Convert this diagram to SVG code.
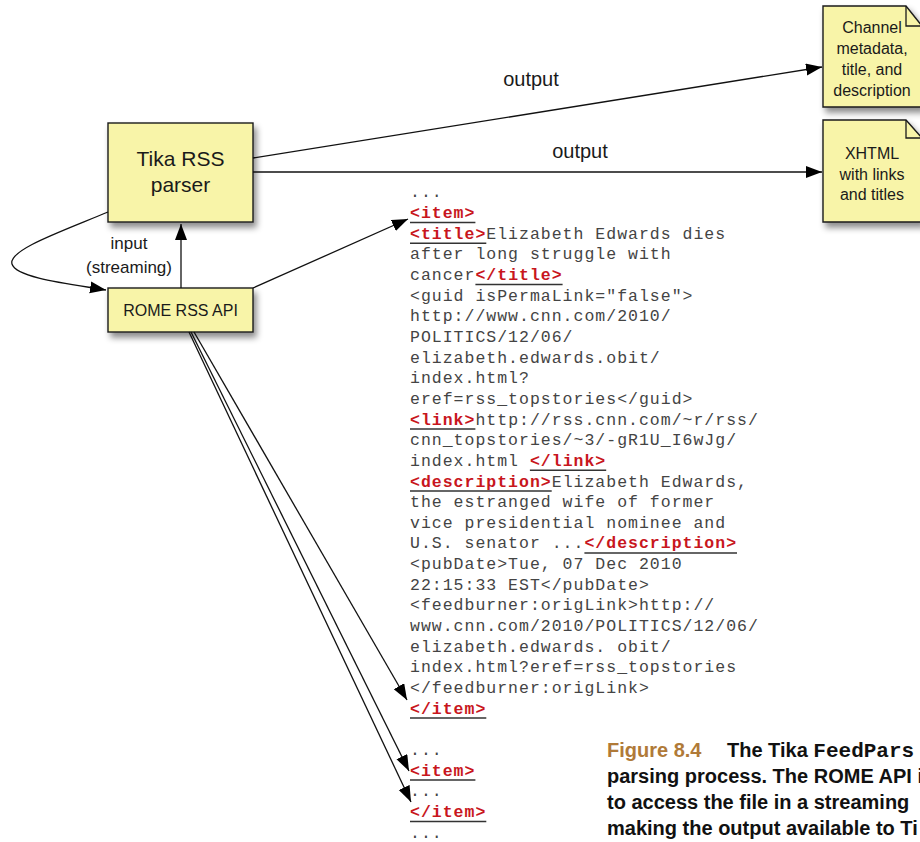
<svg xmlns="http://www.w3.org/2000/svg" width="920" height="842" viewBox="0 0 920 842">
<style>
.box{fill:#f8f4a8;stroke:#1a1a1a;stroke-width:1.4;filter:url(#sh)}
.lbl{font-family:"Liberation Sans",Arial,sans-serif;fill:#1a1a1a;text-anchor:middle}
.conn{fill:none;stroke:#111;stroke-width:1.3}
.code{font-family:"Liberation Mono","Courier New",monospace;font-size:16.5px;letter-spacing:1px;fill:#444}
.tag{fill:#c8161d;font-weight:bold}
.ul{stroke:#333;stroke-width:1.5}
.cap{font-family:"Liberation Sans",Arial,sans-serif;font-size:20px;font-weight:bold;fill:#111}
</style>
<defs>
<filter id="sh" x="-20%" y="-20%" width="150%" height="160%">
<feDropShadow dx="3" dy="5" stdDeviation="3" flood-color="#000" flood-opacity="0.45"/>
</filter>
<marker id="ah" markerUnits="userSpaceOnUse" markerWidth="18" markerHeight="14" refX="16" refY="6" orient="auto">
<path d="M0,0 L16,6 L0,12 z" fill="#000"/>
</marker>
</defs>

<g id="tika">
<rect class="box" x="108" y="123" width="145" height="99"/>
<text class="lbl" font-size="21" x="180.5" y="166">Tika RSS</text>
<text class="lbl" font-size="21" x="180.5" y="192">parser</text>
</g>

<g id="rome">
<rect class="box" x="108" y="288" width="145" height="44"/>
<text class="lbl" font-size="16" x="180.5" y="316">ROME RSS API</text>
</g>

<g id="channel">
<path class="box" d="M823,6 L906,6 L922,26 L922,107 L823,107 z"/>
<path d="M906,6 L906,26 L922,26" fill="none" stroke="#1a1a1a" stroke-width="1.3"/>
<text class="lbl" font-size="16" x="872" y="33">Channel</text>
<text class="lbl" font-size="16" x="872" y="54">metadata,</text>
<text class="lbl" font-size="16" x="872" y="75">title, and</text>
<text class="lbl" font-size="16" x="872" y="96">description</text>
</g>

<g id="xhtml">
<path class="box" d="M823,120 L906,120 L922,138 L922,222 L823,222 z"/>
<path d="M906,120 L906,138 L922,138" fill="none" stroke="#1a1a1a" stroke-width="1.3"/>
<text class="lbl" font-size="16" x="872" y="159">XHTML</text>
<text class="lbl" font-size="16" x="872" y="180">with links</text>
<text class="lbl" font-size="16" x="872" y="200">and titles</text>
</g>

<g id="connectors">
<line class="conn" x1="253" y1="158" x2="822" y2="67" marker-end="url(#ah)"/>
<text class="lbl" font-size="20" x="531" y="86">output</text>
<line class="conn" x1="253" y1="172" x2="822" y2="172" marker-end="url(#ah)"/>
<text class="lbl" font-size="20" x="580" y="158">output</text>
<line class="conn" x1="181" y1="288" x2="181" y2="224" marker-end="url(#ah)"/>
<path class="conn" d="M108,212 C60,232 8,250 12,264 C16,278 70,284 106,290" marker-end="url(#ah)"/>
<text class="lbl" font-size="17" x="129" y="249">input</text>
<text class="lbl" font-size="17" x="129" y="273">(streaming)</text>
<line class="conn" x1="253" y1="288" x2="408" y2="219" marker-end="url(#ah)"/>
<line class="conn" x1="194" y1="332" x2="407" y2="700" marker-end="url(#ah)"/>
<line class="conn" x1="191" y1="332" x2="409" y2="771" marker-end="url(#ah)"/>
<line class="conn" x1="189" y1="332" x2="411" y2="802" marker-end="url(#ah)"/>
</g>

<g id="code">
<text class="code" x="410" y="197.4">...</text>
<text class="code" x="410" y="218"><tspan class="tag">&lt;item&gt;</tspan></text>
<text class="code" x="410" y="238.7"><tspan class="tag">&lt;title&gt;</tspan>Elizabeth Edwards dies</text>
<text class="code" x="410" y="259.3">after long struggle with</text>
<text class="code" x="410" y="280">cancer<tspan class="tag">&lt;/title&gt;</tspan></text>
<text class="code" x="410" y="300.6">&lt;guid isPermaLink="false"&gt;</text>
<text class="code" x="410" y="321.3">http://www.cnn.com/2010/</text>
<text class="code" x="410" y="341.9">POLITICS/12/06/</text>
<text class="code" x="410" y="362.6">elizabeth.edwards.obit/</text>
<text class="code" x="410" y="383.2">index.html?</text>
<text class="code" x="410" y="403.9">eref=rss_topstories&lt;/guid&gt;</text>
<text class="code" x="410" y="424.5"><tspan class="tag">&lt;link&gt;</tspan>http://rss.cnn.com/~r/rss/</text>
<text class="code" x="410" y="445.2">cnn_topstories/~3/-gR1U_I6wJg/</text>
<text class="code" x="410" y="465.8">index.html <tspan class="tag">&lt;/link&gt;</tspan></text>
<text class="code" x="410" y="486.5"><tspan class="tag">&lt;description&gt;</tspan>Elizabeth Edwards,</text>
<text class="code" x="410" y="507.1">the estranged wife of former</text>
<text class="code" x="410" y="527.8">vice presidential nominee and</text>
<text class="code" x="410" y="548.4">U.S. senator ...<tspan class="tag">&lt;/description&gt;</tspan></text>
<text class="code" x="410" y="569.1">&lt;pubDate&gt;Tue, 07 Dec 2010</text>
<text class="code" x="410" y="589.7">22:15:33 EST&lt;/pubDate&gt;</text>
<text class="code" x="410" y="610.4">&lt;feedburner:origLink&gt;http://</text>
<text class="code" x="410" y="631">www.cnn.com/2010/POLITICS/12/06/</text>
<text class="code" x="410" y="651.7">elizabeth.edwards. obit/</text>
<text class="code" x="410" y="672.3">index.html?eref=rss_topstories</text>
<text class="code" x="410" y="693">&lt;/feedburner:origLink&gt;</text>
<text class="code" x="410" y="713.6"><tspan class="tag">&lt;/item&gt;</tspan></text>
<text class="code" x="410" y="755">...</text>
<text class="code" x="410" y="775.6"><tspan class="tag">&lt;item&gt;</tspan></text>
<text class="code" x="410" y="796.2">...</text>
<text class="code" x="410" y="816.9"><tspan class="tag">&lt;/item&gt;</tspan></text>
<text class="code" x="410" y="837.5">...</text>
<g class="ul">
<line x1="410" y1="222.5" x2="475.4" y2="222.5"/>
<line x1="410" y1="243.2" x2="486.3" y2="243.2"/>
<line x1="475.4" y1="284.5" x2="562.6" y2="284.5"/>
<line x1="410" y1="429" x2="475.4" y2="429"/>
<line x1="529.9" y1="470.3" x2="606.2" y2="470.3"/>
<line x1="410" y1="491" x2="551.7" y2="491"/>
<line x1="584.4" y1="552.9" x2="737" y2="552.9"/>
<line x1="410" y1="718.1" x2="486.3" y2="718.1"/>
<line x1="410" y1="780.1" x2="475.4" y2="780.1"/>
<line x1="410" y1="821.4" x2="486.3" y2="821.4"/>
</g>
</g>

<g id="caption">
<text class="cap" x="607" y="757"><tspan fill="#b07a38">Figure 8.4</tspan><tspan x="727">The Tika </tspan><tspan font-family="'Liberation Mono','Courier New',monospace" font-size="21">FeedPars</tspan></text>
<text class="cap" x="607" y="783">parsing process. The ROME API i</text>
<text class="cap" x="607" y="809">to access the file in a streaming</text>
<text class="cap" x="607" y="835">making the output available to Ti</text>
</g>
</svg>
